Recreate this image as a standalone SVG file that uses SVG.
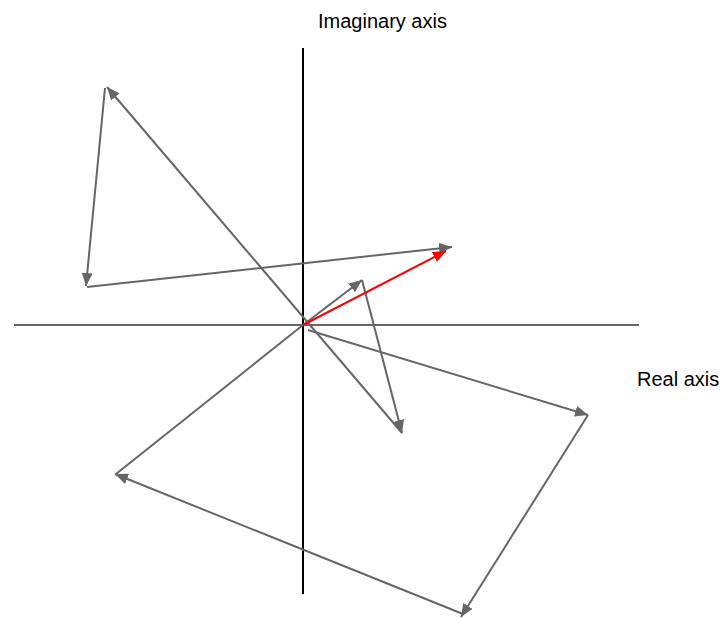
<svg xmlns="http://www.w3.org/2000/svg" width="725" height="618" viewBox="0 0 725 618">
<defs>
<style>
.v{stroke:#666;stroke-width:2;fill:none;marker-end:url(#ah)}
.vn{stroke:#666;stroke-width:2;fill:none}
.r{stroke:#f00;stroke-width:2;fill:none;marker-end:url(#ahr)}
text{font-family:"Liberation Sans",Arial,sans-serif;font-size:20px;fill:#000}
</style>
<marker id="ah" markerUnits="userSpaceOnUse" markerWidth="15" markerHeight="11" refX="13" refY="5.5" orient="auto"><path d="M0,0 L13,5.5 L0,11 z" fill="#666"/></marker>
<marker id="ahr" markerUnits="userSpaceOnUse" markerWidth="15" markerHeight="11" refX="13" refY="5.5" orient="auto"><path d="M0,0 L13,5.5 L0,11 z" fill="#f00"/></marker>
</defs>
<g id="axes">
<line x1="14" y1="325" x2="639" y2="325" stroke="#666" stroke-width="2"/>
<line x1="303" y1="48" x2="303" y2="594" stroke="#000" stroke-width="2"/>
</g>
<g id="labels">
<text x="318" y="28">Imaginary axis</text>
<text x="637" y="386">Real axis</text>
</g>
<g id="connectors">
<line class="v" x1="303" y1="325" x2="362" y2="280"/>
<line class="v" x1="362" y1="280" x2="402" y2="433"/>
<line class="v" x1="402" y1="433" x2="107" y2="87"/>
<line class="v" x1="105" y1="88" x2="86" y2="286"/>
<line class="v" x1="87" y1="287" x2="452" y2="247"/>
<line class="r" x1="303" y1="325" x2="446" y2="251"/>
<line class="v" x1="308" y1="330" x2="588" y2="415"/>
<line class="v" x1="588" y1="415" x2="461" y2="617"/>
<line class="v" x1="463" y1="614" x2="115" y2="474"/>
<line class="vn" x1="116" y1="474" x2="303" y2="325"/>
</g>
</svg>
